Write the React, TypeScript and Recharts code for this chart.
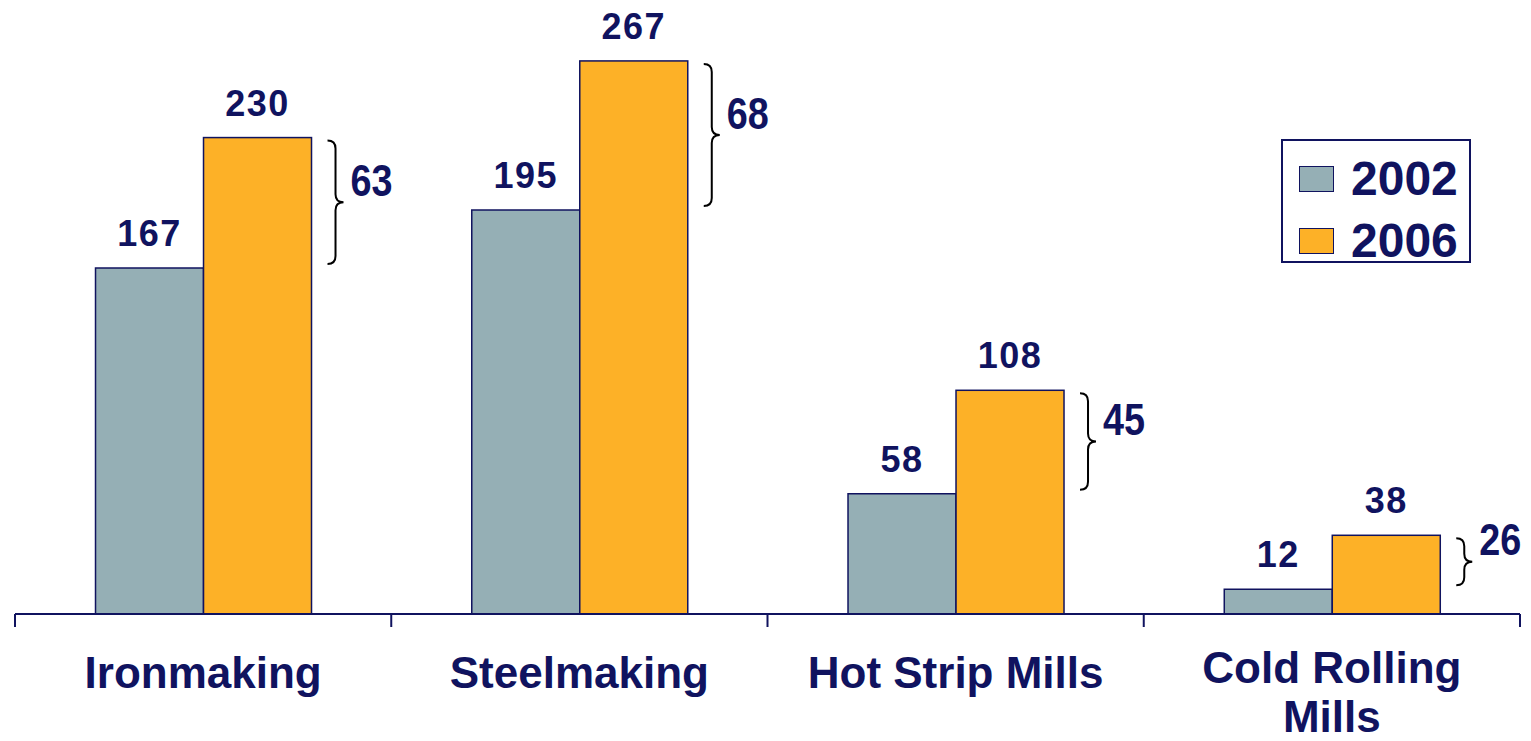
import React from "react";
import { BarChart, Bar, XAxis, YAxis, Legend, LabelList } from "recharts";

const categories = ["Ironmaking", "Steelmaking", "Hot Strip Mills", "Cold Rolling Mills"];
const values2002 = [167, 195, 58, 12];
const values2006 = [230, 267, 108, 38];
const gapLabels = [63, 68, 45, 26];
const seriesNames = ["2002", "2006"];

const data = categories.map((c, i) => ({
  name: c,
  v2002: values2002[i],
  v2006: values2006[i],
  gap: gapLabels[i],
}));

const NAVY = "#10135F";
const GREY = "#95AFB5";
const ORANGE = "#FDB127";
const FONT = "'Liberation Sans', Arial, sans-serif";

const W = 1531;
const H = 741;
const MARGIN = { top: 34, right: 11, left: 15, bottom: 7 };
const BAND = (W - MARGIN.left - MARGIN.right) / categories.length;
const AXIS_FONT = 44;

let canvasCtx: any = null;
function measure(text: string, size: number): number {
  if (typeof document !== "undefined") {
    if (!canvasCtx) canvasCtx = document.createElement("canvas").getContext("2d");
    if (canvasCtx) {
      canvasCtx.font = `bold ${size}px ${FONT}`;
      return canvasCtx.measureText(text).width;
    }
  }
  return text.length * size * 0.6;
}

function wrap(text: string, size: number, maxW: number): string[] {
  const words = text.split(" ");
  const lines: string[] = [];
  let cur = "";
  for (const w of words) {
    const cand = cur ? cur + " " + w : w;
    if (cur && measure(cand, size) > maxW) {
      lines.push(cur);
      cur = w;
    } else cur = cand;
  }
  if (cur) lines.push(cur);
  return lines;
}

const ValueLabel = (props: any) => {
  const { x, y, width, value } = props;
  return (
    <text
      x={x + width / 2}
      y={y - 22}
      textAnchor="middle"
      fill={NAVY}
      fontFamily={FONT}
      fontWeight="bold"
      fontSize={36}
      letterSpacing={1.5}
    >
      {value}
    </text>
  );
};

const Bar2006Shape = (props: any) => {
  const { x, y, width, height, payload } = props;
  const ppu = height / payload.v2006;
  const yLow = y + height - payload.v2002 * ppu;
  const y1 = y + 3;
  const y2 = yLow - 4;
  const ym = (y1 + y2) / 2;
  const x0 = x + width + 16;
  const r = Math.min(8, (y2 - y1) / 4);
  const d = `M${x0},${y1} Q${x0 + 8},${y1} ${x0 + 8},${y1 + r} L${x0 + 8},${ym - r} Q${x0 + 8},${ym} ${x0 + 16},${ym} Q${x0 + 8},${ym} ${x0 + 8},${ym + r} L${x0 + 8},${y2 - r} Q${x0 + 8},${y2} ${x0},${y2}`;
  return (
    <g>
      <rect x={x} y={y} width={width} height={height} fill={ORANGE} stroke={NAVY} strokeWidth={1.5} />
      <path d={d} fill="none" stroke="#000" strokeWidth={2} />
      <text
        x={x0 + 23}
        y={ym - 22}
        dominantBaseline="central"
        fill={NAVY}
        fontFamily={FONT}
        fontWeight="bold"
        fontSize={45}
        textLength={42}
        lengthAdjust="spacingAndGlyphs"
      >
        {payload.gap}
      </text>
    </g>
  );
};

const AxisTick = (props: any) => {
  const { x, y, payload, index } = props;
  const left = x - BAND / 2;
  const right = x + BAND / 2;
  const lines = wrap(String(payload.value), AXIS_FONT, 340);
  const lineH = 49.5;
  const first = lines.length > 1 ? 118 - lineH * (lines.length - 1) : 74;
  return (
    <g>
      <line x1={left} y1={y} x2={left} y2={y + 13} stroke={NAVY} strokeWidth={2} />
      {index === categories.length - 1 && (
        <line x1={right} y1={y} x2={right} y2={y + 13} stroke={NAVY} strokeWidth={2} />
      )}
      <text textAnchor="middle" fill={NAVY} fontFamily={FONT} fontWeight="bold" fontSize={AXIS_FONT}>
        {lines.map((ln, i) => (
          <tspan key={i} x={x} y={y + first + i * lineH}>
            {ln}
          </tspan>
        ))}
      </text>
    </g>
  );
};

const LegendBox = (props: any) => {
  const items = props.payload || [];
  return (
    <div
      style={{
        width: 186,
        height: 120,
        border: `2px solid ${NAVY}`,
        background: "#fff",
        boxSizing: "content-box",
        position: "relative",
      }}
    >
      {items.map((it: any, i: number) => (
        <div
          key={i}
          style={{
            position: "absolute",
            left: 16,
            top: 13 + i * 62,
            height: 50,
            display: "flex",
            alignItems: "center",
          }}
        >
          <div
            style={{
              width: 33,
              height: 24,
              background: it.color,
              border: `1.5px solid ${NAVY}`,
            }}
          />
          <span
            style={{
              marginLeft: 17,
              fontFamily: FONT,
              fontWeight: "bold",
              fontSize: 48,
              color: NAVY,
              lineHeight: "50px",
            }}
          >
            {it.value}
          </span>
        </div>
      ))}
    </div>
  );
};

export default function App() {
  return (
    <div style={{ position: "relative", width: W, height: H, margin: "-8px 0 0 -8px" }}>
      <BarChart width={W} height={H} data={data} margin={MARGIN} barCategoryGap="21.4%" barGap={0} style={{ overflow: "visible" }}>
        <XAxis
          dataKey="name"
          height={120}
          axisLine={{ stroke: NAVY, strokeWidth: 2 }}
          tickLine={false}
          tickSize={0}
          tickMargin={0}
          interval={0}
          tick={<AxisTick />}
        />
        <YAxis hide domain={[0, 280]} />
        <Legend
          layout="vertical"
          align="center"
          verticalAlign="middle"
          content={<LegendBox />}
          wrapperStyle={{ position: "absolute", left: 1281, top: 139, width: 190, height: 124 }}
        />
        <Bar dataKey="v2002" name={seriesNames[0]} fill={GREY} stroke={NAVY} strokeWidth={1.5} isAnimationActive={false}>
          <LabelList dataKey="v2002" content={<ValueLabel />} />
        </Bar>
        <Bar dataKey="v2006" name={seriesNames[1]} fill={ORANGE} stroke={NAVY} strokeWidth={1.5} isAnimationActive={false} shape={<Bar2006Shape />}>
          <LabelList dataKey="v2006" content={<ValueLabel />} />
        </Bar>
      </BarChart>
    </div>
  );
}
